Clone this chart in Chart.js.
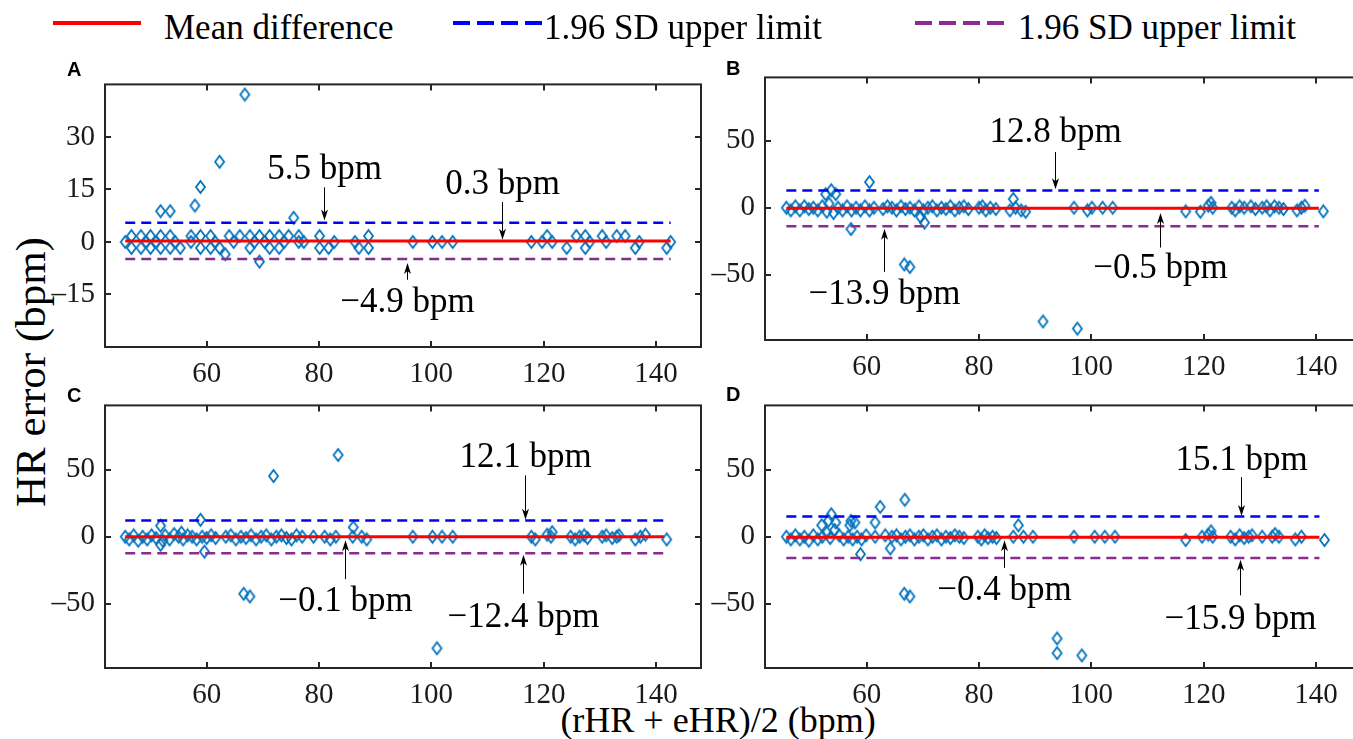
<!DOCTYPE html>
<html>
<head>
<meta charset="utf-8">
<script src="https://cdn.jsdelivr.net/npm/chart.js@4.4.0/dist/chart.umd.min.js"></script>
<style>
  html, body { margin: 0; padding: 0; background: #fff; }
  body { width: 1353px; height: 739px; overflow: hidden; position: relative; font-family: "Liberation Serif", "Times New Roman", serif; color: #000; }
  .tag { position: absolute; font: bold 20px "Liberation Sans", Arial, sans-serif; line-height: 20px; }
  .leg-line { position: absolute; }
  .leg-text { position: absolute; font-size: 35px; line-height: 35px; white-space: nowrap; }
  #ytitle, #xtitle { position: absolute; white-space: nowrap; }
  #ytitle { left: 30px; top: 372px; font-size: 43px; line-height: 43px; transform: translate(-50%, -50%) rotate(-90deg); }
  #xtitle { left: 718px; top: 720px; font-size: 36px; line-height: 36px; transform: translate(-50%, -50%); }
</style>
</head>
<body>
<div id="ytitle">HR error (bpm)</div>
<div id="xtitle">(rHR + eHR)/2 (bpm)</div>
<script>
// tick values
const xTicks = [60, 80, 100, 120, 140];
const yTicksA = [-15, 0, 15, 30];
const yTicksBCD = [-50, 0, 50];

// limits of agreement per panel (A, B, C, D)
const meanDiff = [0.3, -0.5, -0.1, -0.4];
const upperLimit = [5.5, 12.8, 12.1, 15.1];
const lowerLimit = [-4.9, -13.9, -12.4, -15.9];
const lineStart = [45.5, 45.7, 45.5, 45.7];
const lineEnd = [142.6, 140.5, 141.4, 140.6];

const legendLabels = ['Mean difference', '1.96 SD upper limit', '1.96 SD upper limit'];

// (mean HR, HR error) pairs
const pointsA = [
  [45.5,0],[46.6,1.7],[46.6,-1.7],[48.3,1.7],[48.3,-1.7],[49.2,0],[50.0,1.7],[50.0,-1.7],[51.0,0],
  [51.8,1.7],[51.8,-1.7],[53.5,1.7],[53.5,-1.7],[54.4,0],[55.3,-1.7],[57.2,1.7],[57.2,0],[58.9,1.7],
  [58.9,-1.7],[60.7,1.7],[60.7,-1.7],[61.5,0],[62.3,-1.7],[64.0,1.7],[64.8,0],[65.9,1.7],[67.7,1.7],
  [67.7,-1.7],[68.5,0],[69.4,1.7],[70.3,0],[71.2,1.7],[71.2,-1.7],[72.9,1.7],[72.9,-1.7],[73.8,0],
  [74.6,1.7],[76.4,1.7],[76.4,0],[77.3,0],[80.1,1.7],[80.1,-1.7],[81.7,-1.7],[82.7,0],[86.4,0],
  [87.1,-1.7],[88.8,1.7],[88.8,-1.7],[96.7,0],[100.2,0],[101.9,0],[103.8,0],[117.8,0],[119.7,0],
  [120.6,1.7],[121.5,0],[124.1,-1.7],[125.8,1.7],[127.4,1.7],[127.4,-1.7],[128.2,0],[130.4,1.7],
  [131.1,0],[133.0,1.7],[134.5,1.7],[136.3,-1.7],[137.0,0],[141.9,-1.7],[142.6,0],
  [66.8,42.1],[62.3,22.9],[58.9,15.7],[57.9,10.4],[51.8,8.8],[53.5,8.8],[75.5,6.9],[63.3,-3.5],[69.4,-5.6]
];
const pointsB = [
  [45.7,0],[46.5,-2],[47.3,1],[48.1,-2],[48.9,1],[49.7,-1],[50.5,0],[51.3,-2],[52.1,1],[52.9,-3],
  [53.3,3],[53.7,13],[52.7,10.1],[54.5,10.1],[54.1,-4],[54.9,0],[55.7,-2],[56.5,1],[57.2,-15.9],
  [57.3,-2],[58.1,0],[58.9,-2],[59.7,1],[60.5,19.1],[60.5,-2],[61.3,0],[62.9,-1],[63.7,1],[64.5,0],
  [65.3,-2],[66.1,1],[66.9,-1],[67.7,0],[68.5,-2],[69.3,1],[69.6,-6.8],[70.3,-11.1],[70.1,-2],
  [70.9,0],[71.7,1],[72.5,-2],[73.3,0],[74.1,-1],[74.9,1],[75.7,-2],[76.5,0],[77.3,1],[78.1,-1],
  [80.0,0],[80.6,1],[81.2,-2],[82.0,0],[83.0,-1],[85.5,-2],[86.1,6.5],[86.5,0],[87.5,-2],[88.3,-3],
  [96.9,0],[99.3,-2],[100.1,0],[102.0,0],[103.8,0],[116.8,-2.7],[119.4,-3],[120.8,1.5],[121.3,3.6],
  [121.6,0],[125.0,0],[125.6,-2],[126.4,1],[127.2,0],[128.4,1],[129.2,-1],[130.4,0],[131.2,1],
  [131.8,-2],[132.6,1],[133.4,0],[134.2,-1],[136.6,-2],[137.4,0],[138.0,1.5],[141.3,-2.7],
  [66.7,-42.3],[67.7,-44.2],[91.4,-84.8],[97.5,-90.1]
];
const pointsC = [
  [45.5,0],[46.2,-2],[47.0,1],[47.8,-3],[48.6,0],[49.4,-2],[50.2,1],[51.0,-1],[51.8,8.2],[51.8,-6],
  [52.2,-3],[52.6,1],[53.4,-2],[54.2,2],[55.0,0],[55.5,3],[55.8,-2],[56.6,1],[57.4,0],[58.2,-2],
  [58.9,12.6],[59.6,-11.1],[59.2,0],[60.0,-1],[60.8,1],[61.6,-1],[63.4,0],[64.3,1],[65.2,-2],
  [66.1,0],[67.0,-1],[67.9,1],[68.8,-2],[69.7,0],[70.6,1],[71.5,-2],[72.4,0],[73.3,1],[74.2,-1],
  [75.1,-2],[76.0,1],[77.0,0],[79.0,0],[81.0,0],[82.0,-2],[83.0,0],[86.1,7.0],[86.0,0],[87.6,0],
  [88.5,-2],[96.7,0],[100.2,0],[101.9,0],[103.8,0],[117.8,0],[118.5,-2],[120.6,1.5],[121.5,3.4],
  [121.3,0],[124.8,0],[125.6,-2],[126.4,0],[127.2,1],[127.8,-1],[130.4,0],[131.1,1],[132.2,-1],
  [133.0,0],[133.4,1],[136.3,-2],[137.2,0],[138.1,1.5],[141.9,-2],
  [83.4,60.9],[71.9,45.2],[66.6,-42.5],[67.7,-44.5],[101.0,-83.1]
];
const pointsD = [
  [45.7,0],[46.5,-2],[47.3,1],[48.1,-2],[48.9,0],[49.7,-3],[50.5,1],[51.3,-2],[52.0,8.5],[52.1,0],
  [52.9,3],[53.2,12],[53.7,16.7],[53.5,-1],[54.5,10.6],[54.3,5],[55.1,1],[55.9,-2],[56.7,0],
  [57.0,8.5],[57.2,11.8],[57.9,10.6],[57.5,-2],[58.3,0],[58.9,-13],[59.1,-2],[59.9,1],[61.5,10.6],
  [61.5,0],[62.4,22.2],[63.3,1],[64.2,-8.7],[64.5,0],[65.3,1],[66.1,-2],[66.8,27.5],[66.9,0],
  [67.7,1],[68.5,-2],[69.3,0],[70.1,1],[70.9,-2],[71.7,0],[72.5,1],[73.3,-2],[74.1,0],[74.9,-1],
  [75.7,1],[76.5,0],[77.3,-1],[79.8,0],[80.4,-2],[81.0,1],[81.6,-1],[82.4,0],[83.1,-1],[86.1,0],
  [87.0,8.5],[87.9,0],[89.6,0],[96.9,0],[100.6,0],[102.4,0],[104.2,0],[116.8,-2.5],[119.7,0],
  [120.8,1.5],[121.3,4],[121.6,0],[124.8,0],[125.6,-2],[126.4,1],[127.2,-1],[128.0,0],[128.6,1],
  [130.4,0],[132.2,0],[132.7,2],[133.4,0],[136.3,-2],[137.4,0],[141.5,-2.5],
  [66.7,-42.5],[67.7,-44.5],[93.9,-75.8],[93.9,-86.7],[98.3,-88.4]
];

// annotation: text, x, text y, arrow tail y, arrow head y (data units)
const notesA = [['5.5 bpm', 80.9, 20.6, 15.6, 6.1], ['0.3 bpm', 112.6, 16.4, 11.4, 0.6], ['\u22124.9 bpm', 95.6, -17.4, -10.8, -6.0]];
const notesB = [['12.8 bpm', 93.5, 56, 41.5, 13.8], ['\u22120.5 bpm', 112.3, -45.4, -29.7, -3.9], ['\u221213.9 bpm', 63.1, -64.7, -47.8, -15.7]];
const notesC = [['12.1 bpm', 116.7, 58.9, 45.7, 12.6], ['\u22120.1 bpm', 84.7, -48.6, -31.6, -2.7], ['\u221212.4 bpm', 116.4, -60.6, -42.5, -13.5]];
const notesD = [['15.1 bpm', 126.6, 56.5, 44.4, 15.4], ['\u22120.4 bpm', 84.5, -40.1, -23.2, -2.7], ['\u221215.9 bpm', 126.4, -61.8, -43.7, -17.2]];

const PAD_L = 105, PAD_T = 20, PAD_R = 20, PAD_B = 50;
const X_MIN = 41.9, X_MAX = 148;

const panels = [
  { tag: 'A', area: [105, 77, 701, 347], yMin: -30, yMax: 45, yTicks: yTicksA, points: pointsA, notes: notesA, tagPos: [67, 59] },
  { tag: 'B', area: [765, 70, 1361, 340], yMin: -98.6, yMax: 97.1, yTicks: yTicksBCD, points: pointsB, notes: notesB, tagPos: [726, 58] },
  { tag: 'C', area: [105, 398, 701, 668], yMin: -97.8, yMax: 97.8, yTicks: yTicksBCD, points: pointsC, notes: notesC, tagPos: [67, 385] },
  { tag: 'D', area: [765, 398, 1361, 668], yMin: -97.8, yMax: 97.8, yTicks: yTicksBCD, points: pointsD, notes: notesD, tagPos: [726, 384] }
];

const AXIS = '#262626';
const RED = '#ff0000', BLUE = '#0000ff', PURPLE = '#8b2c92', MARK = '#0072bd';

function makeDiamond(w, h, color, lw) {
  const c = document.createElement('canvas');
  c.width = w + 4; c.height = h + 4;
  const g = c.getContext('2d');
  const cx = c.width / 2, cy = c.height / 2;
  g.strokeStyle = color; g.lineWidth = lw;
  g.beginPath();
  g.moveTo(cx, cy - h / 2); g.lineTo(cx + w / 2, cy); g.lineTo(cx, cy + h / 2); g.lineTo(cx - w / 2, cy);
  g.closePath(); g.stroke();
  return c;
}
const diamond = makeDiamond(9, 12, MARK, 1.8);

// box round the axes with inward ticks on all four sides
const boxPlugin = {
  id: 'box',
  afterDatasetsDraw(chart) {
    const { ctx, chartArea: a, scales: { x, y } } = chart;
    ctx.save();
    ctx.strokeStyle = AXIS;
    ctx.lineWidth = 2;
    ctx.strokeRect(a.left, a.top, a.right - a.left, a.bottom - a.top);
    ctx.beginPath();
    x.ticks.forEach(t => {
      const px = Math.round(x.getPixelForValue(t.value));
      ctx.moveTo(px, a.bottom); ctx.lineTo(px, a.bottom - 6);
      ctx.moveTo(px, a.top); ctx.lineTo(px, a.top + 6);
    });
    y.ticks.forEach(t => {
      const py = Math.round(y.getPixelForValue(t.value));
      ctx.moveTo(a.left, py); ctx.lineTo(a.left + 6, py);
      ctx.moveTo(a.right, py); ctx.lineTo(a.right - 6, py);
    });
    ctx.stroke();
    ctx.restore();
  }
};

// value labels with arrows
const notesPlugin = {
  id: 'notes',
  afterDatasetsDraw(chart, args, opts) {
    const { ctx, scales: { x, y } } = chart;
    ctx.save();
    ctx.font = '35px "Liberation Serif"';
    ctx.textAlign = 'center';
    ctx.textBaseline = 'middle';
    ctx.fillStyle = '#000';
    ctx.strokeStyle = '#000';
    ctx.lineWidth = 1;
    (opts.items || []).forEach(([text, xv, ty, tail, head]) => {
      const px = Math.round(x.getPixelForValue(xv)) + 0.5;
      ctx.fillText(text, px, y.getPixelForValue(ty));
      const y0 = y.getPixelForValue(tail), y1 = y.getPixelForValue(head);
      const dir = Math.sign(y1 - y0);
      ctx.beginPath();
      ctx.moveTo(px, y0); ctx.lineTo(px, y1 - dir * 8);
      ctx.stroke();
      ctx.beginPath();
      ctx.moveTo(px, y1);
      ctx.lineTo(px - 3.5, y1 - dir * 11);
      ctx.lineTo(px, y1 - dir * 8);
      ctx.lineTo(px + 3.5, y1 - dir * 11);
      ctx.closePath();
      ctx.fill();
    });
    ctx.restore();
  }
};

function limitLine(label, i, value, color, dash, width) {
  return {
    type: 'line', label, order: 0,
    data: [{ x: lineStart[i], y: value }, { x: lineEnd[i], y: value }],
    borderColor: color, borderWidth: width, borderDash: dash,
    pointRadius: 0, fill: false
  };
}

const tickFont = { family: '"Liberation Serif", serif', size: 29 };

panels.forEach((p, i) => {
  const [L, T, R, B] = p.area;
  const w = R - L + PAD_L + PAD_R, h = B - T + PAD_T + PAD_B;
  const cv = document.createElement('canvas');
  cv.width = w; cv.height = h;
  cv.style.cssText = `position:absolute;left:${L - PAD_L}px;top:${T - PAD_T}px;width:${w}px;height:${h}px;`;
  document.body.appendChild(cv);

  const tag = document.createElement('div');
  tag.className = 'tag';
  tag.textContent = p.tag;
  tag.style.left = p.tagPos[0] + 'px';
  tag.style.top = p.tagPos[1] + 'px';
  document.body.appendChild(tag);

  new Chart(cv, {
    type: 'scatter',
    data: {
      datasets: [
        limitLine(legendLabels[0], i, meanDiff[i], RED, [], 3),
        limitLine(legendLabels[1], i, upperLimit[i], BLUE, [10, 6], 2.5),
        limitLine(legendLabels[2], i, lowerLimit[i], PURPLE, [10, 6], 2.5),
        {
          label: 'HR error', order: 5,
          data: p.points.map(([x, y]) => ({ x, y })),
          pointStyle: diamond, pointRadius: 6
        }
      ]
    },
    options: {
      responsive: false,
      animation: false,
      devicePixelRatio: 1,
      layout: { padding: { left: 0, top: PAD_T, right: PAD_R, bottom: 0 } },
      plugins: { legend: { display: false }, tooltip: { enabled: false }, notes: { items: p.notes } },
      scales: {
        x: {
          type: 'linear', min: X_MIN, max: X_MAX,
          afterFit: s => { s.height = PAD_B; },
          afterBuildTicks: s => { s.ticks = xTicks.map(v => ({ value: v })); },
          grid: { display: false, drawTicks: false },
          border: { display: false },
          ticks: { padding: 10, font: tickFont, color: '#1a1a1a', maxRotation: 0 }
        },
        y: {
          type: 'linear', min: p.yMin, max: p.yMax,
          afterFit: s => { s.width = PAD_L; },
          afterBuildTicks: s => { s.ticks = p.yTicks.map(v => ({ value: v })); },
          grid: { display: false, drawTicks: false },
          border: { display: false },
          ticks: { padding: 10, font: tickFont, color: '#1a1a1a', callback: v => (v < 0 ? '\u2013' + (-v) : '' + v) }
        }
      }
    },
    plugins: [boxPlugin, notesPlugin]
  });
});

// legend across the top
const legendItems = [
  { color: RED, dash: '', line: [53, 88], text: 164 },
  { color: BLUE, dash: '17 7', line: [453, 91], text: 544 },
  { color: PURPLE, dash: '17 7', line: [915, 91], text: 1018 }
];
legendItems.forEach((it, i) => {
  const svg = document.createElementNS('http://www.w3.org/2000/svg', 'svg');
  svg.setAttribute('width', it.line[1]);
  svg.setAttribute('height', 8);
  svg.setAttribute('class', 'leg-line');
  svg.style.left = it.line[0] + 'px';
  svg.style.top = '19px';
  const ln = document.createElementNS('http://www.w3.org/2000/svg', 'line');
  ln.setAttribute('x1', 0); ln.setAttribute('y1', 4);
  ln.setAttribute('x2', it.line[1]); ln.setAttribute('y2', 4);
  ln.setAttribute('stroke', it.color);
  ln.setAttribute('stroke-width', 4);
  if (it.dash) ln.setAttribute('stroke-dasharray', it.dash);
  svg.appendChild(ln);
  document.body.appendChild(svg);

  const t = document.createElement('div');
  t.className = 'leg-text';
  t.textContent = legendLabels[i];
  t.style.left = it.text + 'px';
  t.style.top = '10px';
  document.body.appendChild(t);
});
</script>
</body>
</html>
